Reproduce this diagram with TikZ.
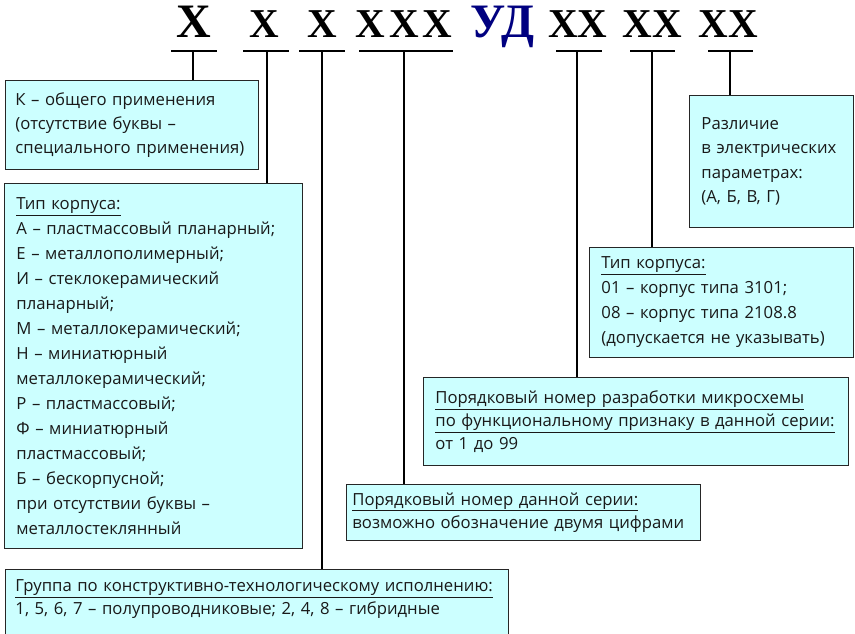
\documentclass[tikz,border=0pt]{standalone}
\usepackage{fontspec}
\setmainfont{Open Sans}
\newfontfamily\hdfont{Liberation Serif}
\definecolor{boxfill}{HTML}{CCFFFF}
\definecolor{udblue}{HTML}{000080}
\begin{document}
\begin{tikzpicture}[x=1pt,y=-1pt,
  box/.style={draw=black!85, line width=0.9pt, fill=boxfill, anchor=north west,
    align=left, inner xsep=12pt, inner ysep=0pt, text=black!90,
    font=\fontsize{16.7}{24.2}\selectfont},
  hd/.style={font=\fontsize{41}{41}\hdfont\bfseries, anchor=base, inner sep=0pt},
  bar/.style={line width=1.4pt},
  conn/.style={line width=1.4pt}]
\clip (0,0) rectangle (855,633);
\useasboundingbox (0,0) rectangle (855,633);
\fill[white] (0,0) rectangle (855,633);

% header
\node[hd, font=\fontsize{48}{48}\hdfont\bfseries] (h1) at (194,37) {X};
\node[hd] (h2) at (264,37) {X};
\node[hd] (h3) at (322.5,37) {X};
\node[hd] (h4) at (404,37) {X\hspace{4pt}X\hspace{4pt}X};
\node[hd, text=udblue, font=\fontsize{48}{48}\hdfont\bfseries] (hud) at (502.5,37) {УД};
\node[hd] (h5) at (578,37) {XX};
\node[hd] (h6) at (652.5,37) {XX};
\node[hd] (h7) at (728.5,37) {XX};

\draw[bar] (171,51) -- (217,51);
\draw[bar] (243,51) -- (289,51);
\draw[bar] (299,51) -- (345,51);
\draw[bar] (359,51) -- (453,51);
\draw[bar] (556,51) -- (602,51);
\draw[bar] (630,51) -- (675,51);
\draw[bar] (708,51) -- (753,51);

\coordinate (c1) at (193,51);
\coordinate (c2) at (267,51);
\coordinate (c3) at (322,51);
\coordinate (c4) at (404,51);
\coordinate (c5) at (577,51);
\coordinate (c6) at (652,51);
\coordinate (c7) at (730,51);

% boxes
\node[box, inner xsep=10pt, minimum width=253, minimum height=89, text width=233] (k) at (5,80)
 {К – общего применения\\(отсутствие буквы –\\специального применения)};

\node[box, minimum width=298, minimum height=365, text width=274,
      font=\fontsize{16.7}{25}\selectfont] (t) at (4,183)
 {\underline{Тип корпуса:}\\
  А – пластмассовый планарный;\\
  Е – металлополимерный;\\
  И – стеклокерамический\\
  планарный;\\
  М – металлокерамический;\\
  Н – миниатюрный\\
  металлокерамический;\\
  Р – пластмассовый;\\
  Ф – миниатюрный\\
  пластмассовый;\\
  Б – бескорпусной;\\
  при отсутствии буквы –\\
  металлостеклянный};

\node[box, minimum width=164, minimum height=132, text width=140] (r) at (689,95)
 {Различие\\в электрических\\параметрах:\\(А, Б, В, Г)};

\node[box, minimum width=264, minimum height=110, text width=240,
      font=\fontsize{16.7}{25}\selectfont] (kp) at (589,247)
 {\underline{Тип корпуса:}\\01 – корпус типа 3101;\\08 – корпус типа 2108.8\\(допускается не указывать)};

\node[box, minimum width=425, minimum height=88, text width=401,
      font=\fontsize{16.7}{23}\selectfont] (pn) at (423,377)
 {\underline{Порядковый номер разработки микросхемы}\\
  \underline{по функциональному признаку в данной серии:}\\
  от 1 до 99};

\node[box, inner xsep=6pt, minimum width=354, minimum height=56, text width=342,
      font=\fontsize{16.7}{23}\selectfont] (sn) at (346,484)
 {\underline{Порядковый номер данной серии:}\\возможно обозначение двумя цифрами};

\node[box, inner xsep=10pt, minimum width=503, minimum height=78, text width=483,
      font=\fontsize{16.7}{23}\selectfont] (gr) at (5,569)
 {\underline{Группа по конструктивно-технологическому исполнению:}\\
  1, 5, 6, 7 – полупроводниковые; 2, 4, 8 – гибридные\\\mbox{}};

% connectors
\draw[conn] (c1) -- (c1 |- k.north);
\draw[conn] (c2) -- (c2 |- t.north);
\draw[conn] (c3) -- (c3 |- gr.north);
\draw[conn] (c4) -- (c4 |- sn.north);
\draw[conn] (c5) -- (c5 |- pn.north);
\draw[conn] (c6) -- (c6 |- kp.north);
\draw[conn] (c7) -- (c7 |- r.north);
\end{tikzpicture}
\end{document}
